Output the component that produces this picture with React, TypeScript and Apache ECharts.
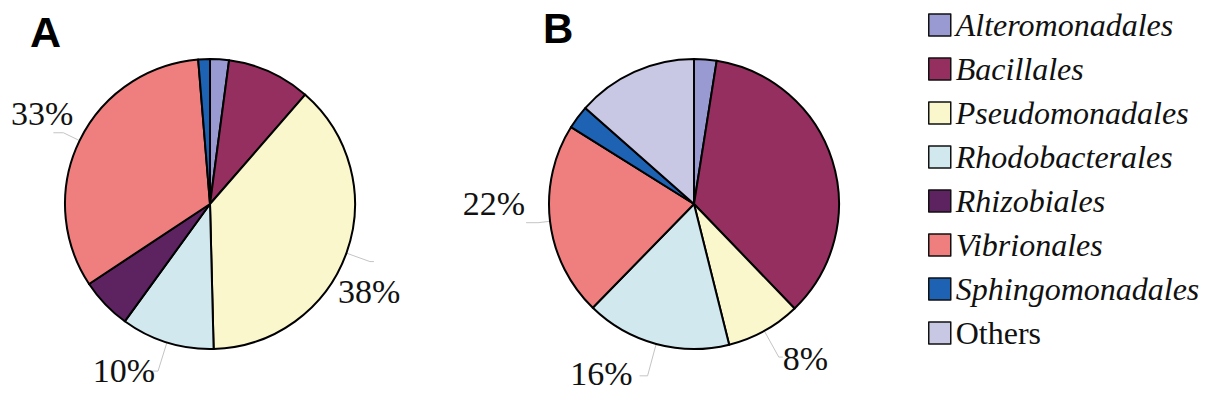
import { useEffect, useRef } from 'react';
import * as echarts from 'echarts';

const categories = [
  'Alteromonadales',
  'Bacillales',
  'Pseudomonadales',
  'Rhodobacterales',
  'Rhizobiales',
  'Vibrionales',
  'Sphingomonadales',
  'Others',
];
const colors = ['#9a9ad2', '#942f5f', '#f9f7cb', '#d1e9ee', '#5c2360', '#ef7f7f', '#1d62b3', '#c8c8e4'];
const valuesA = [2.1, 9.3, 38.2, 10.4, 5.7, 33.0, 1.3, 0];
const valuesB = [2.5, 35.3, 8.3, 16.2, 0, 21.6, 2.6, 13.5];
const labeledA = ['Pseudomonadales', 'Rhodobacterales', 'Vibrionales'];
const labeledB = ['Pseudomonadales', 'Rhodobacterales', 'Vibrionales'];
const panelLetters = ['A', 'B'];
const italicNames = categories.filter((c) => c !== 'Others');

const serif = "'Liberation Serif', 'Times New Roman', Times, serif";

type Pair = Record<string, [number, number]>;
const lineLenA: Pair = {
  Pseudomonadales: [25, 4],
  Rhodobacterales: [30, 6],
  Vibrionales: [18, 10],
};
const lineLenB: Pair = {
  Pseudomonadales: [30, 4],
  Rhodobacterales: [33, 8],
  Vibrionales: [12, 12],
};
// label nudges (dx, dy) per series
const labelNudge: Pair[] = [
  { Pseudomonadales: [-38, 30], Rhodobacterales: [5, -1], Vibrionales: [22, -19] },
  { Pseudomonadales: [-2, 1], Rhodobacterales: [-5, -2], Vibrionales: [1, -19] },
];

function buildData(values: number[], labeled: string[], lens: Pair) {
  return categories
    .map((name, i) => {
      const show = labeled.includes(name);
      const len = lens[name] || [20, 8];
      return {
        name,
        value: values[i],
        itemStyle: { color: colors[i] },
        label: { show },
        labelLine: { show, length: len[0], length2: len[1] },
      };
    })
    .filter((d) => d.value > 0);
}

function pieSeries(center: [number, number], values: number[], labeled: string[], lens: Pair) {
  return {
    type: 'pie',
    center,
    radius: 145,
    startAngle: 90,
    clockwise: true,
    silent: true,
    avoidLabelOverlap: false,
    itemStyle: { borderColor: '#000', borderWidth: 2 },
    emphasis: { disabled: true },
    label: {
      position: 'outside',
      formatter: (p: any) => Math.round(p.percent) + '%',
      fontFamily: serif,
      fontSize: 34,
      color: '#111',
      distanceToLabelLine: 2,
    },
    labelLine: {
      lineStyle: { color: '#c4c4c4', width: 1 },
    },
    labelLayout: (params: any) => {
      const s = labelNudge[params.seriesIndex] || {};
      const vals = params.seriesIndex === 0 ? valuesA : valuesB;
      const name = categories.filter((_, i) => vals[i] > 0)[params.dataIndex];
      const n = s[name];
      return n ? { dx: n[0], dy: n[1] } : {};
    },
    data: buildData(values, labeled, lens),
  };
}

export default function App() {
  const ref = useRef<HTMLDivElement>(null);
  useEffect(() => {
    if (!ref.current) return;
    const chart = echarts.init(ref.current, null, { renderer: 'svg' });
    chart.setOption({
      animation: false,
      backgroundColor: '#fff',
      legend: {
        orient: 'vertical',
        left: 928,
        top: 9,
        padding: 0,
        itemWidth: 22,
        itemHeight: 22,
        itemGap: 12,
        icon: 'rect',
        selectedMode: false,
        itemStyle: { borderColor: '#111', borderWidth: 1.5 },
        textStyle: { fontFamily: serif, fontSize: 32, color: '#111' },
        data: categories.map((name) => ({
          name,
          textStyle: { fontStyle: italicNames.includes(name) ? 'italic' : 'normal' },
        })),
      },
      graphic: [
        {
          type: 'text',
          x: 30,
          y: 31.5,
          style: {
            text: panelLetters[0],
            font: "bold 43px 'Liberation Sans', Arial, sans-serif",
            fill: '#000',
            verticalAlign: 'middle',
          },
        },
        {
          type: 'text',
          x: 543,
          y: 28,
          style: {
            text: panelLetters[1],
            font: "bold 42px 'Liberation Sans', Arial, sans-serif",
            fill: '#000',
            verticalAlign: 'middle',
          },
        },
      ],
      series: [
        pieSeries([210, 204], valuesA, labeledA, lineLenA),
        pieSeries([694, 204], valuesB, labeledB, lineLenB),
      ],
    });
    return () => chart.dispose();
  }, []);
  return <div ref={ref} style={{ position: 'absolute', left: 0, top: 0, width: 1227, height: 401 }} />;
}
